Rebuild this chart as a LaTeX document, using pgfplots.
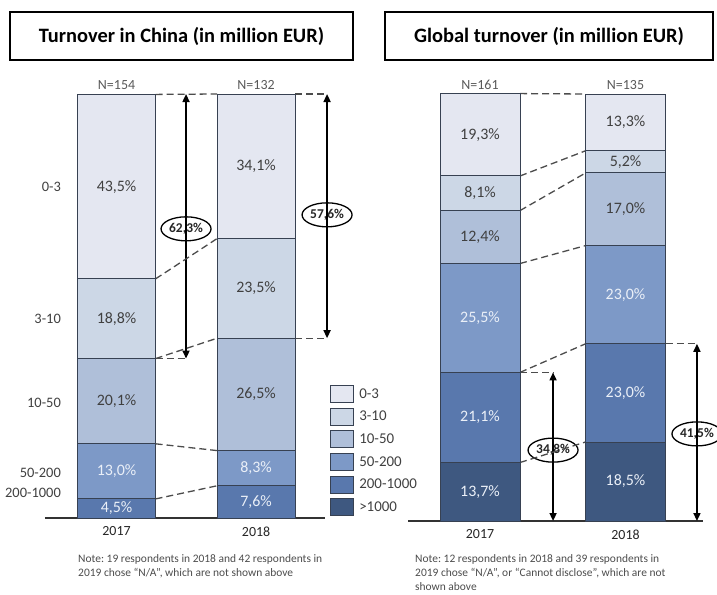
\documentclass[border=0pt]{standalone}
\usepackage{pgfplots}
\pgfplotsset{compat=1.18}
\usepackage{pgfplotstable}
\usepackage{fontspec}
\setmainfont{Carlito}
\usetikzlibrary{arrows.meta,shapes.geometric}

\definecolor{c03}{RGB}{228,231,241}
\definecolor{c310}{RGB}{204,215,230}
\definecolor{c1050}{RGB}{175,191,217}
\definecolor{c50200}{RGB}{125,153,199}
\definecolor{c2001000}{RGB}{89,120,173}
\definecolor{c1000}{RGB}{62,88,128}
\definecolor{edge}{RGB}{55,65,82}
\definecolor{txt}{RGB}{64,64,64}
\definecolor{ltxt}{RGB}{235,240,248}

% shares in %, bottom segment first
\pgfplotstableread{
x g200 g50  g10  g3   g0
0 4.5  13.0 20.1 18.8 43.5
1 7.6  8.3  26.5 23.5 34.1
}\china
\pgfplotstableread{
x g1000 g200 g50  g10  g3  g0
0 13.7  21.1 25.5 12.4 8.1 19.3
1 18.5  23.0 23.0 17.0 5.2 13.3
}\world

\pgfplotsset{
  geoL/.style={x=139.5bp, y=4.24bp, xmin=-0.513, xmax=1.495, ymin=0, ymax=100,
    at={(45bp,-518bp)}, anchor=south west, clip=false},
  geoR/.style={x=145.5bp, y=4.27bp, xmin=-0.495, xmax=1.533, ymin=0, ymax=100,
    at={(408bp,-521bp)}, anchor=south west, clip=false},
  seg/.style={fill=#1, draw=edge, line width=1bp,
    legend image code/.code={\draw[##1] (0bp,-8.5bp) rectangle (23bp,8.5bp);}},
  stk/.style={
    ybar stacked,
    axis y line=none, ytick=\empty,
    axis x line*=bottom,
    x axis line style={-, line width=1.2bp, color=black!80},
    xtick={0,1}, xticklabels={2017,2018}, xtick style={draw=none},
    xticklabel style={font=\fontsize{14}{16}\selectfont, text=black!85, yshift=-5bp},
  },
  % label layer: percentages at the middle of each segment
  lbl/.style={
    hide axis,
    point meta=explicit symbolic,
    nodes near coords={\pgfmathprintnumber[use comma,fixed,fixed zerofill,precision=1,assume math mode=true]{\pgfplotspointmeta}\%},
    nodes near coords align={center},
    every node near coord/.append style={font=\fontsize{16}{18}\selectfont, text=txt, anchor=center},
  },
  dk/.style={every node near coord/.append style={text=ltxt}},
}
\tikzset{
  conn/.style={draw=black!70, line width=1.3bp, dash pattern=on 7bp off 4bp},
  arr/.style={{Triangle[length=8bp,width=7bp]}-{Triangle[length=8bp,width=7bp]}, line width=1.6bp, black},
  ell/.style={ellipse, draw=black, line width=1.3bp, fill=white, inner sep=0pt, minimum width=50bp, minimum height=24bp, font=\bfseries\fontsize{13.5}{15}\selectfont, text=black!85},
  nlab/.style={anchor=south, inner sep=0pt, yshift=4bp, font=\fontsize{14}{16}\selectfont, text=black!65},
  rowlab/.style={anchor=east, inner sep=0pt, font=\fontsize{14.5}{17}\selectfont, text=txt},
  note/.style={anchor=north west, inner sep=0pt, align=left, font=\fontsize{11.5}{14}\selectfont\frenchspacing, text=black!70},
}

\begin{document}
\begin{tikzpicture}
% titles
\draw[line width=1.5bp] (10bp,-12bp) rectangle (353bp,-60bp);
\node[font=\bfseries\fontsize{20.5}{24}\selectfont] at (181.5bp,-36bp) {Turnover in China (in million EUR)};
\draw[line width=1.5bp] (385bp,-12bp) rectangle (713bp,-60bp);
\node[font=\bfseries\fontsize{20.5}{24}\selectfont] at (549bp,-36bp) {Global turnover (in million EUR)};

% China
\begin{axis}[geoL, stk, bar width=78bp]
\addplot[seg=c2001000] table[x=x,y=g200]\china;
\addplot[seg=c50200] table[x=x,y=g50]\china;
\addplot[seg=c1050] table[x=x,y=g10]\china;
\addplot[seg=c310] table[x=x,y=g3]\china;
\addplot[seg=c03] table[x=x,y=g0]\china;
\draw[conn] ([xshift=39bp]axis cs:0,99.9) -- ([xshift=-39bp]axis cs:1,100);
\draw[conn] ([xshift=39bp]axis cs:1,100) -- (axis cs:1.509,100);
\draw[conn] ([xshift=39bp]axis cs:0,56.4) -- ([xshift=-39bp]axis cs:1,65.9);
\draw[conn] ([xshift=39bp]axis cs:0,37.6) -- ([xshift=-39bp]axis cs:1,42.4);
\draw[conn] ([xshift=39bp]axis cs:0,37.6) -- (axis cs:0.498,37.6);
\draw[conn] ([xshift=39bp]axis cs:1,42.4) -- (axis cs:1.509,42.4);
\draw[conn] ([xshift=39bp]axis cs:0,17.5) -- ([xshift=-39bp]axis cs:1,15.9);
\draw[conn] ([xshift=39bp]axis cs:0,4.5) -- ([xshift=-39bp]axis cs:1,7.6);
\draw[arr] (axis cs:0.498,37.6) -- (axis cs:0.498,100);
\draw[arr] (axis cs:1.509,42.4) -- (axis cs:1.509,100);
\node[ell] at (axis cs:0.498,68.2) {62,3\%};
\node[ell] at (axis cs:1.509,71.5) {57,6\%};
\node[nlab] at (axis cs:0,100) {N=154};
\node[nlab] at (axis cs:1,100) {N=132};
\node[rowlab] at (axis cs:-0.398,78) {0-3};
\node[rowlab] at (axis cs:-0.398,47) {3-10};
\node[rowlab] at (axis cs:-0.398,27.1) {10-50};
\node[rowlab] at (axis cs:-0.398,10.6) {50-200};
\node[rowlab] at (axis cs:-0.398,5.9) {200-1000};
\end{axis}
\begin{axis}[geoL, lbl]
\addplot[draw=none, dk] table[x=x, y expr=\thisrow{g200}/2, meta=g200]\china;
\addplot[draw=none, dk] table[x=x, y expr=\thisrow{g200}+\thisrow{g50}/2, meta=g50]\china;
\addplot[draw=none] table[x=x, y expr=\thisrow{g200}+\thisrow{g50}+\thisrow{g10}/2, meta=g10]\china;
\addplot[draw=none] table[x=x, y expr=\thisrow{g200}+\thisrow{g50}+\thisrow{g10}+\thisrow{g3}/2, meta=g3]\china;
\addplot[draw=none] table[x=x, y expr=\thisrow{g200}+\thisrow{g50}+\thisrow{g10}+\thisrow{g3}+\thisrow{g0}/2, meta=g0]\china;
\end{axis}

% Global
\begin{axis}[geoR, stk, bar width=80bp,
  reverse legend,
  legend style={draw=none, fill=none, inner sep=0pt, at={(-0.264,0.3185)}, anchor=north west,
    font=\fontsize{15}{17}\selectfont, text=txt, row sep=4.6bp,
    nodes={inner sep=1bp}, cells={anchor=west},
    /tikz/every odd column/.append style={column sep=4bp}}]
\addplot[seg=c1000] table[x=x,y=g1000]\world;
\addlegendentry{>1000}
\addplot[seg=c2001000] table[x=x,y=g200]\world;
\addlegendentry{200-1000}
\addplot[seg=c50200] table[x=x,y=g50]\world;
\addlegendentry{50-200}
\addplot[seg=c1050] table[x=x,y=g10]\world;
\addlegendentry{10-50}
\addplot[seg=c310] table[x=x,y=g3]\world;
\addlegendentry{3-10}
\addplot[seg=c03] table[x=x,y=g0]\world;
\addlegendentry{0-3}
\draw[conn] ([xshift=40bp]axis cs:0,100.1) -- ([xshift=-40bp]axis cs:1,100);
\draw[conn] ([xshift=40bp]axis cs:0,80.8) -- ([xshift=-40bp]axis cs:1,86.7);
\draw[conn] ([xshift=40bp]axis cs:0,72.7) -- ([xshift=-40bp]axis cs:1,81.5);
\draw[conn] ([xshift=40bp]axis cs:0,60.3) -- ([xshift=-40bp]axis cs:1,64.5);
\draw[conn] ([xshift=40bp]axis cs:0,34.8) -- ([xshift=-40bp]axis cs:1,41.5);
\draw[conn] ([xshift=40bp]axis cs:0,13.7) -- ([xshift=-40bp]axis cs:1,18.5);
\draw[conn] ([xshift=40bp]axis cs:0,34.8) -- (axis cs:0.502,34.8);
\draw[conn] ([xshift=40bp]axis cs:1,41.5) -- (axis cs:1.491,41.5);
\draw[arr] (axis cs:0.502,0) -- (axis cs:0.502,34.8);
\draw[arr] (axis cs:1.491,0) -- (axis cs:1.491,41.5);
\node[ell] at (axis cs:0.502,16.6) {34,8\%};
\node[ell] at (axis cs:1.491,20.4) {41,5\%};
\node[nlab] at (axis cs:0,100) {N=161};
\node[nlab] at (axis cs:1,100) {N=135};
\end{axis}
\begin{axis}[geoR, lbl]
\addplot[draw=none, dk] table[x=x, y expr=\thisrow{g1000}/2, meta=g1000]\world;
\addplot[draw=none, dk] table[x=x, y expr=\thisrow{g1000}+\thisrow{g200}/2, meta=g200]\world;
\addplot[draw=none, dk] table[x=x, y expr=\thisrow{g1000}+\thisrow{g200}+\thisrow{g50}/2, meta=g50]\world;
\addplot[draw=none] table[x=x, y expr=\thisrow{g1000}+\thisrow{g200}+\thisrow{g50}+\thisrow{g10}/2, meta=g10]\world;
\addplot[draw=none] table[x=x, y expr=\thisrow{g1000}+\thisrow{g200}+\thisrow{g50}+\thisrow{g10}+\thisrow{g3}/2, meta=g3]\world;
\addplot[draw=none] table[x=x, y expr=\thisrow{g1000}+\thisrow{g200}+\thisrow{g50}+\thisrow{g10}+\thisrow{g3}+\thisrow{g0}/2, meta=g0]\world;
\end{axis}

% notes
\node[note] at (78bp,-554bp) {Note: 19 respondents in 2018 and 42 respondents in\\2019 chose “N/A”, which are not shown above};
\node[note] at (415bp,-554bp) {Note: 12 respondents in 2018 and 39 respondents in\\2019 chose “N/A”, or “Cannot disclose”, which are not\\shown above};

\pgfresetboundingbox
\path[use as bounding box] (0bp,0bp) rectangle (717bp,-595bp);
\end{tikzpicture}
\end{document}
